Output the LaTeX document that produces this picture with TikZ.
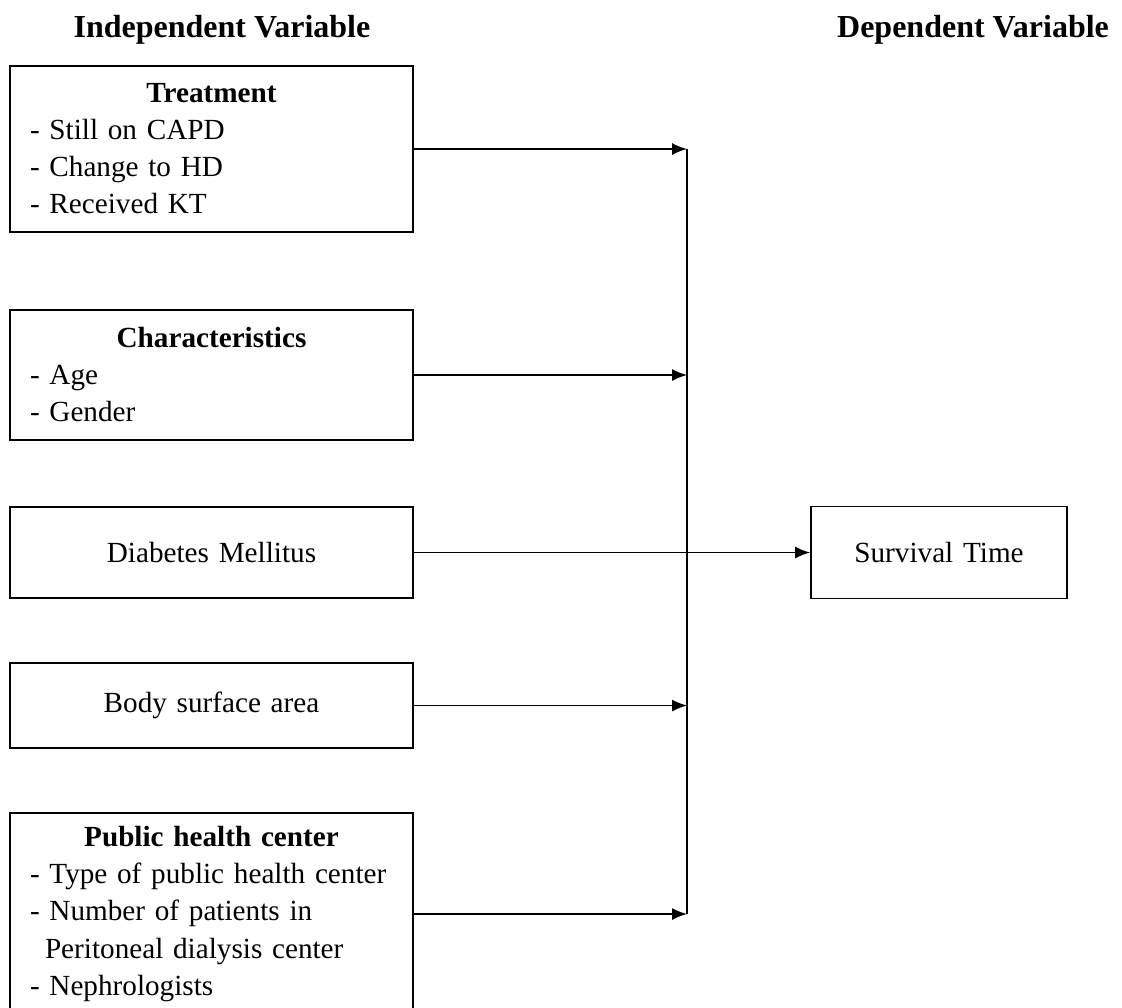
\documentclass[tikz,border=0pt]{standalone}
\usepackage{fontspec}
\setmainfont{Liberation Serif}
\usetikzlibrary{arrows.meta}
\begin{document}
\begin{tikzpicture}[x=0.5pt,y=-0.5pt,
    varbox/.style={draw=black,line width=0.9pt,rectangle,inner xsep=10pt,inner ysep=0pt,
      minimum width=201.5pt,text width=181.5pt,align=left,
      font=\fontsize{14.6}{18.5}\selectfont},
    link/.style={-{Latex[length=7.5pt,width=6pt]},line width=0.7pt},
    title/.style={font=\fontsize{16}{19}\selectfont\bfseries}]
    \useasboundingbox (0,0) rectangle (1122,1007);
    % headings
    \node[title,anchor=base] (indep) at (222,37) {Independent Variable};
    \node[title,anchor=base] (dep) at (973,37) {Dependent Variable};
    % independent variables
    \node[varbox,minimum height=83pt] (treat) at (211.5,149)
      {{\centering\textbf{Treatment}\par}
       - Still on CAPD\\ - Change to HD\\ - Received KT\par\vspace*{5pt}};
    \node[varbox,minimum height=65pt] (char) at (211.5,375)
      {{\centering\textbf{Characteristics}\par}
       - Age\\ - Gender\par\vspace*{5pt}};
    \node[varbox,minimum height=45.5pt,align=center] (diab) at (211.5,552.5) {Diabetes Mellitus};
    \node[varbox,minimum height=42.5pt,align=center] (body) at (211.5,705.5) {Body surface area};
    \node[varbox,minimum height=101pt] (public) at (211.5,914)
      {{\centering\textbf{Public health center}\par}
       \mbox{- Type of public health center}\\ - Number of patients in\\
       \hspace*{7.5pt}Peritoneal dialysis center\\ - Nephrologists\par\vspace*{4pt}};
    % dependent variable
    \node[varbox,minimum width=128pt,text width=108pt,minimum height=46pt,align=center] (surv) at (939,552.5) {Survival Time};
    % connectors
    \coordinate (bus) at (687,0);
    \draw[line width=1pt] (treat.east -| bus) -- (public.east -| bus);
    \foreach \b in {treat,char,body,public}{
      \draw[link] (\b.east) -- (\b.east -| bus);
    }
    \draw[link] (diab.east) -- (surv.west);
\end{tikzpicture}
\end{document}
